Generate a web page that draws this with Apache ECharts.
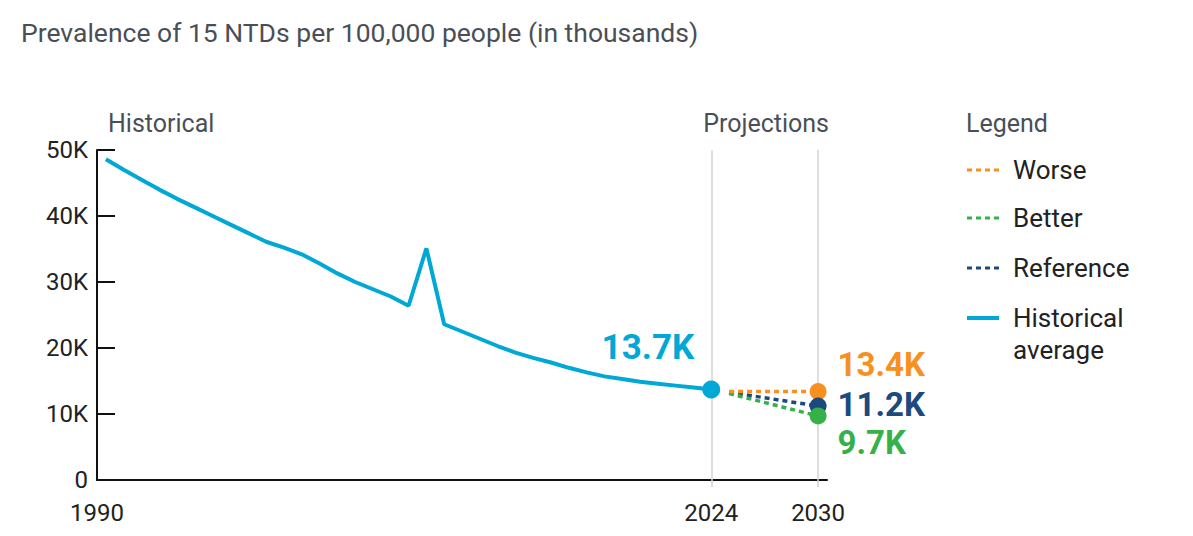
<!DOCTYPE html>
<html>
<head>
<meta charset="utf-8">
<script src="https://cdn.jsdelivr.net/npm/echarts@6/dist/echarts.min.js"></script>
<style>
html,body{margin:0;padding:0;background:#fff;}
#chart{width:1193px;height:536px;}
</style>
</head>
<body>
<div id="chart"></div>
<script>
// ---- data (values in thousands per 100,000 people) ----
const histYears = [1990,1991,1992,1993,1994,1995,1996,1997,1998,1999,2000,2001,2002,2003,2004,2005,2006,2007,2008,2009,2010,2011,2012,2013,2014,2015,2016,2017,2018,2019,2020,2021,2022,2023,2024];
const histValues = [48.6,47.0,45.5,44.0,42.6,41.3,40.0,38.7,37.4,36.1,35.2,34.2,32.8,31.3,30.0,28.9,27.8,26.4,35.1,23.6,22.5,21.4,20.3,19.3,18.5,17.8,17.0,16.3,15.7,15.3,14.9,14.6,14.3,14.0,13.7];
const projYears = [2025, 2030];
const worseValues = [13.4, 13.4];
const betterValues = [13.1, 9.7];
const referenceValues = [13.3, 11.2];
const endLabels = ['13.4K', '11.2K', '9.7K'];
const histEndLabel = '13.7K';
const yTicks = [0, 10, 20, 30, 40, 50];
const yTickLabels = ['0', '10K', '20K', '30K', '40K', '50K'];
const xTickValues = [1989.5, 2024, 2030];
const xTickLabels = ['1990', '2024', '2030'];
const gridYears = [2024, 2030];
const legendNames = ['Worse', 'Better', 'Reference', 'Historical'];

const C_HIST = '#00a8d5', C_WORSE = '#f7901e', C_REF = '#1b4a80', C_BETTER = '#36b14a';
const FONT = 'Roboto, "Noto Sans", sans-serif';
const GREY_TXT = '#4a4f57';

const chart = echarts.init(document.getElementById('chart'), null, {renderer: 'svg'});

const zip = (xs, ys) => xs.map((x, i) => [x, ys[i]]);
const dotted = [5, 4];

// legend drawn as graphic elements
const legendRows = [
  {name: legendNames[0], color: C_WORSE, y: 170, dash: dotted, w: 3},
  {name: legendNames[1], color: C_BETTER, y: 218, dash: dotted, w: 3},
  {name: legendNames[2], color: C_REF, y: 268, dash: dotted, w: 3},
  {name: legendNames[3], color: C_HIST, y: 318, dash: null, w: 4}
];
const legendGraphics = [];
legendRows.forEach(r => {
  legendGraphics.push({
    type: 'line', silent: true,
    shape: {x1: 967, y1: r.y, x2: 999, y2: r.y},
    style: {stroke: r.color, lineWidth: r.w, lineDash: r.dash || null}
  });
  legendGraphics.push({
    type: 'text', silent: true, x: 1013, y: r.y,
    style: {text: r.name, fontSize: 26, fill: '#222', fontFamily: FONT, verticalAlign: 'middle', align: 'left'}
  });
});
legendGraphics.push({
  type: 'text', silent: true, x: 1013, y: 350,
  style: {text: 'average', fontSize: 26, fill: '#222', fontFamily: FONT, verticalAlign: 'middle', align: 'left'}
});

const option = {
  backgroundColor: '#fff',
  animation: false,
  textStyle: {fontFamily: FONT},
  title: {
    text: 'Prevalence of 15 NTDs per 100,000 people (in thousands)',
    left: 16, top: 14,
    textStyle: {fontSize: 26.5, fontWeight: 'normal', color: GREY_TXT, fontFamily: FONT}
  },
  grid: {left: 97, right: 366, top: 150, bottom: 56, containLabel: false},
  xAxis: {
    type: 'value', min: 1989.5, max: 2030.5,
    axisLine: {show: true, lineStyle: {color: '#111', width: 2}},
    axisTick: {show: true, customValues: gridYears, length: 7, lineStyle: {color: '#d0d0d0', width: 1.5}},
    axisLabel: {
      customValues: xTickValues, margin: 21, fontSize: 24, color: '#222', fontFamily: FONT,
      formatter: v => { const i = xTickValues.indexOf(v); return i >= 0 ? xTickLabels[i] : ''; }
    },
    splitLine: {show: false}
  },
  yAxis: {
    type: 'value', min: 0, max: 50, interval: 10,
    axisLine: {show: true, lineStyle: {color: '#111', width: 2}},
    axisTick: {show: true, inside: true, length: 18, lineStyle: {color: '#111', width: 2}},
    axisLabel: {
      margin: 9, fontSize: 24, color: '#222', fontFamily: FONT,
      formatter: v => { const i = yTicks.indexOf(v); return i >= 0 ? yTickLabels[i] : ''; }
    },
    splitLine: {show: false}
  },
  graphic: [
    {type: 'text', silent: true, x: 108, y: 123, style: {text: 'Historical', fontSize: 25, fill: GREY_TXT, fontFamily: FONT, verticalAlign: 'middle'}},
    {type: 'text', silent: true, x: 829, y: 123, style: {text: 'Projections', fontSize: 25, fill: GREY_TXT, fontFamily: FONT, verticalAlign: 'middle', align: 'right'}},
    {type: 'text', silent: true, x: 966, y: 123, style: {text: 'Legend', fontSize: 25, fill: GREY_TXT, fontFamily: FONT, verticalAlign: 'middle'}}
  ].concat(legendGraphics),
  series: [
    {
      name: 'Historical average', type: 'line', data: zip(histYears, histValues),
      symbol: 'none', lineStyle: {color: C_HIST, width: 4}, itemStyle: {color: C_HIST}, z: 3,
      markLine: {
        silent: true, symbol: 'none', label: {show: false}, animation: false,
        lineStyle: {color: '#d3d3d3', width: 1.5, type: 'solid'},
        data: gridYears.map(y => ({xAxis: y})),
        z: 1
      }
    },
    {
      name: 'Reference', type: 'line', data: zip(projYears, referenceValues),
      symbol: 'none', lineStyle: {color: C_REF, width: 3.5, type: dotted}, itemStyle: {color: C_REF}, z: 3
    },
    {
      name: 'Better', type: 'line', data: zip(projYears, betterValues),
      symbol: 'none', lineStyle: {color: C_BETTER, width: 3.5, type: dotted}, itemStyle: {color: C_BETTER}, z: 3
    },
    {
      name: 'Worse', type: 'line', data: zip(projYears, worseValues),
      symbol: 'none', lineStyle: {color: C_WORSE, width: 3.5, type: dotted}, itemStyle: {color: C_WORSE}, z: 3
    },
    {
      name: 'hist-end', type: 'scatter', symbolSize: 18, z: 5,
      itemStyle: {opacity: 1},
      data: [{
        value: [histYears[histYears.length - 1], histValues[histValues.length - 1]],
        itemStyle: {color: C_HIST, opacity: 1},
        label: {show: true, position: 'left', distance: 8, offset: [0, -42], formatter: histEndLabel,
          fontSize: 35, fontWeight: 'bold', color: C_HIST, fontFamily: FONT, opacity: 1}
      }]
    },
    {
      name: 'proj-end', type: 'scatter', symbolSize: 17, z: 5,
      itemStyle: {opacity: 1},
      data: [
        {value: [projYears[1], worseValues[1]], itemStyle: {color: C_WORSE, opacity: 1},
          label: {show: true, position: 'right', distance: 11, offset: [0, -27], formatter: endLabels[0], color: C_WORSE, opacity: 1}},
        {value: [projYears[1], referenceValues[1]], itemStyle: {color: C_REF, opacity: 1},
          label: {show: true, position: 'right', distance: 11, offset: [0, -2], formatter: endLabels[1], color: C_REF, opacity: 1}},
        {value: [projYears[1], betterValues[1]], itemStyle: {color: C_BETTER, opacity: 1},
          label: {show: true, position: 'right', distance: 11, offset: [0, 27], formatter: endLabels[2], color: C_BETTER, opacity: 1}}
      ],
      label: {fontSize: 33, fontWeight: 'bold', fontFamily: FONT}
    }
  ]
};
chart.setOption(option);
</script>
</body>
</html>
